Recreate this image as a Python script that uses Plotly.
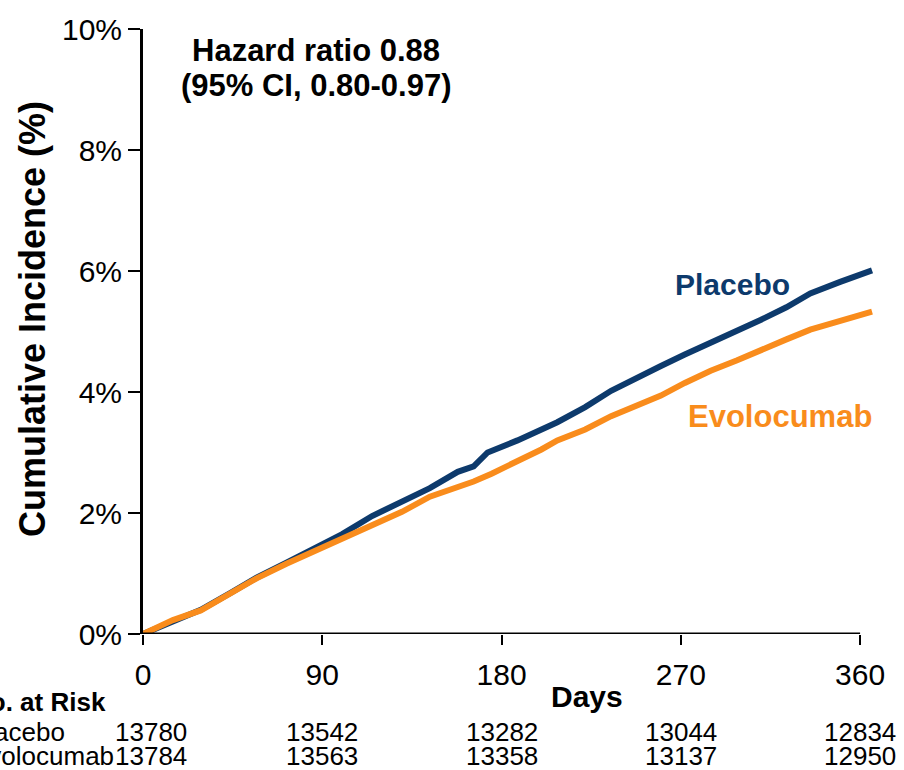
import plotly.graph_objects as go

# Cumulative incidence curves (days, %)
placebo_days = [0, 15, 29, 44, 57, 72, 89, 100, 115, 130, 144, 158, 166, 173, 188,
                208, 222, 235, 248, 260, 272, 285, 298, 310, 323, 335, 350, 366]
placebo_pct = [0, 0.21, 0.40, 0.68, 0.93, 1.18, 1.46, 1.65, 1.95, 2.18, 2.41, 2.68, 2.77,
               3.00, 3.20, 3.50, 3.75, 4.02, 4.22, 4.43, 4.62, 4.81, 5.00, 5.19, 5.40,
               5.63, 5.82, 6.01]

evolo_days = [0, 15, 29, 44, 57, 72, 89, 100, 115, 130, 144, 158, 166, 175, 188, 200,
              208, 222, 235, 248, 260, 272, 285, 298, 310, 323, 335, 350, 366]
evolo_pct = [0, 0.23, 0.39, 0.67, 0.92, 1.16, 1.41, 1.58, 1.78, 2.02, 2.27, 2.42, 2.52,
             2.65, 2.85, 3.05, 3.20, 3.38, 3.60, 3.78, 3.94, 4.15, 4.35, 4.52, 4.70,
             4.87, 5.03, 5.18, 5.33]

# Axes
x_ticks = [0, 90, 180, 270, 360]
y_ticks = [0, 2, 4, 6, 8, 10]
y_ticklabels = ["0%", "2%", "4%", "6%", "8%", "10%"]

# Number at risk table
risk_days = [0, 90, 180, 270, 360]
risk_placebo = [13780, 13542, 13282, 13044, 12834]
risk_evolo = [13784, 13563, 13358, 13137, 12950]

NAVY = "#0d3a6c"
ORANGE = "#f98c1c"
FONT = "Arial, Liberation Sans, sans-serif"

fig = go.Figure()
fig.add_trace(go.Scatter(x=placebo_days, y=placebo_pct, mode="lines",
                         line=dict(color=NAVY, width=6), name="Placebo"))
fig.add_trace(go.Scatter(x=evolo_days, y=evolo_pct, mode="lines",
                         line=dict(color=ORANGE, width=6), name="Evolocumab"))

# x-axis baseline only spans 0..360 days
fig.add_shape(type="line", xref="x", yref="y", x0=0, x1=360, y0=0, y1=0,
              line=dict(color="black", width=3), layer="above")


def note(text, x, y, xref, yref, size, color="black", xanchor="center"):
    return dict(text=text, x=x, y=y, xref=xref, yref=yref, showarrow=False,
                xanchor=xanchor, yanchor="middle", font=dict(size=size, color=color))


ann = [
    note("<b>Hazard ratio 0.88</b>", 87, 9.64, "x", "y", 31),
    note("<b>(95% CI, 0.80-0.97)</b>", 87, 9.07, "x", "y", 31),
    note("<b>Placebo</b>", 296, 5.78, "x", "y", 30, NAVY),
    note("<b>Evolocumab</b>", 320, 3.60, "x", "y", 31, ORANGE),
    note("<b>Days</b>", 223, -0.103, "x", "paper", 30),
]
ytitle = note("<b>Cumulative Incidence (%)</b>", -0.1506, 0.5205, "paper", "paper", 36)
ytitle["textangle"] = -90
ann.append(ytitle)

row_y = {"head": -0.113, "placebo": -0.162, "evolo": -0.201}
left_x = -0.236
ann.append(note("<b>No. at Risk</b>", left_x, row_y["head"], "paper", "paper", 26,
                xanchor="left"))
ann.append(note("Placebo", left_x, row_y["placebo"], "paper", "paper", 26, xanchor="left"))
ann.append(note("Evolocumab", left_x, row_y["evolo"], "paper", "paper", 26, xanchor="left"))
for i, d in enumerate(risk_days):
    xd = d + 4 if i == 0 else d
    ann.append(note(str(risk_placebo[i]), xd, row_y["placebo"], "x", "paper", 26))
    ann.append(note(str(risk_evolo[i]), xd, row_y["evolo"], "x", "paper", 26))

fig.update_layout(
    width=904, height=770,
    margin=dict(l=143, r=24, t=23, b=136),
    paper_bgcolor="white", plot_bgcolor="white",
    font=dict(family=FONT, color="black"),
    showlegend=False,
    annotations=ann,
    xaxis=dict(range=[0, 370], tickvals=x_ticks, ticks="outside", ticklen=10,
               tickwidth=2, tickcolor="black", showline=False, showgrid=False,
               zeroline=False, ticklabelstandoff=4,
               tickfont=dict(size=30, color="black")),
    yaxis=dict(range=[0, 10], tickvals=y_ticks, ticktext=y_ticklabels,
               ticks="outside", ticklen=12, tickwidth=2, tickcolor="black",
               showline=True, linecolor="black", linewidth=3, showgrid=False,
               zeroline=False, tickfont=dict(size=30, color="black")),
)

fig.write_html("out.html")
